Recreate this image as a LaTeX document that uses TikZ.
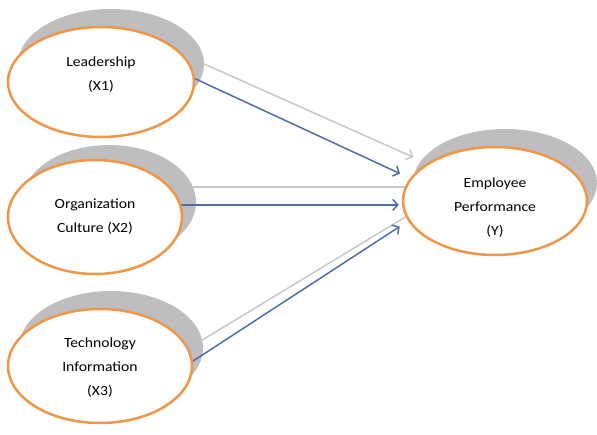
\documentclass[tikz,border=0pt]{standalone}
\usepackage{fontspec}
\newfontfamily\lblfont[FakeStretch=1.12]{Carlito}
\usetikzlibrary{shapes,arrows.meta}
\definecolor{ringorange}{RGB}{240,150,70}
\definecolor{depthgray}{RGB}{190,190,193}
\definecolor{lightarrow}{RGB}{200,200,200}
\definecolor{bluearrow}{RGB}{80,110,165}
\pgfdeclarelayer{back}
\pgfdeclarelayer{front}
\pgfsetlayers{back,main,front}

\begin{document}
\begin{tikzpicture}[x=1pt,y=-1pt]
\tikzstyle{every node}=[font=\lblfont\fontsize{14}{24}\selectfont, text=black]
\tikzstyle{var}=[ellipse, draw=ringorange, line width=2.5pt, fill=white, minimum width=186pt, minimum height=110pt, inner sep=0pt]
\tikzstyle{depth}=[ellipse, fill=depthgray, minimum width=186pt, minimum height=110pt, inner sep=0pt]
\tikzstyle{txt}=[align=center, inner sep=0pt]
\tikzstyle{grayline}=[lightarrow, line width=1.5pt, -{Straight Barb[length=5pt,width=11pt]}]
\tikzstyle{blueline}=[bluearrow, line width=1.5pt, -{Straight Barb[length=5pt,width=11pt]}]
\useasboundingbox (0,0) rectangle (597,434);
\begin{pgfonlayer}{back}
\node[depth] (leadsh) at (111,64) {};
\node[depth, minimum width=174pt, minimum height=114pt] (cultsh) at (109,202) {};
\node[depth, minimum width=184pt, minimum height=114pt] (techsh) at (111,348) {};
\node[depth, minimum width=184pt, minimum height=108pt] (empsh) at (505,183) {};
\end{pgfonlayer}
\begin{pgfonlayer}{front}
\node[var] (lead) at (101,82) {};
\node[var, minimum width=174pt, minimum height=114pt] (cult) at (95,217) {};
\node[var, minimum width=184pt, minimum height=114pt] (tech) at (100,366) {};
\node[var, minimum width=184pt, minimum height=108pt] (emp) at (495,201) {};
\node[txt] (leadtxt) at ([yshift=7pt]lead.center) {Leadership\\(X1)};
\node[txt] (culttxt) at (cult.center) {Organization\\Culture (X2)};
\node[txt] (techtxt) at ([yshift=-2pt]tech.center) {Technology\\Information\\(X3)};
\node[txt] (emptxt) at ([yshift=-7pt]emp.center) {Employee\\Performance\\(Y)};
\end{pgfonlayer}
\draw[grayline, shorten >=15pt] (leadsh.east) -- (emp.151);
\draw[blueline, shorten >=11pt] (lead.2) -- (emp.165);
\draw[grayline, shorten >=80pt] (cultsh.10) -- (cultsh.10 -| emp.center);
\draw[blueline, shorten >=3pt] (cult.8) -- (cult.8 -| emp.west);
\draw[grayline, shorten >=-8pt] (techsh.5) -- (emp.190);
\draw[blueline, shorten >=10pt] (tech.3) -- (emp.193);
\end{tikzpicture}
\end{document}
